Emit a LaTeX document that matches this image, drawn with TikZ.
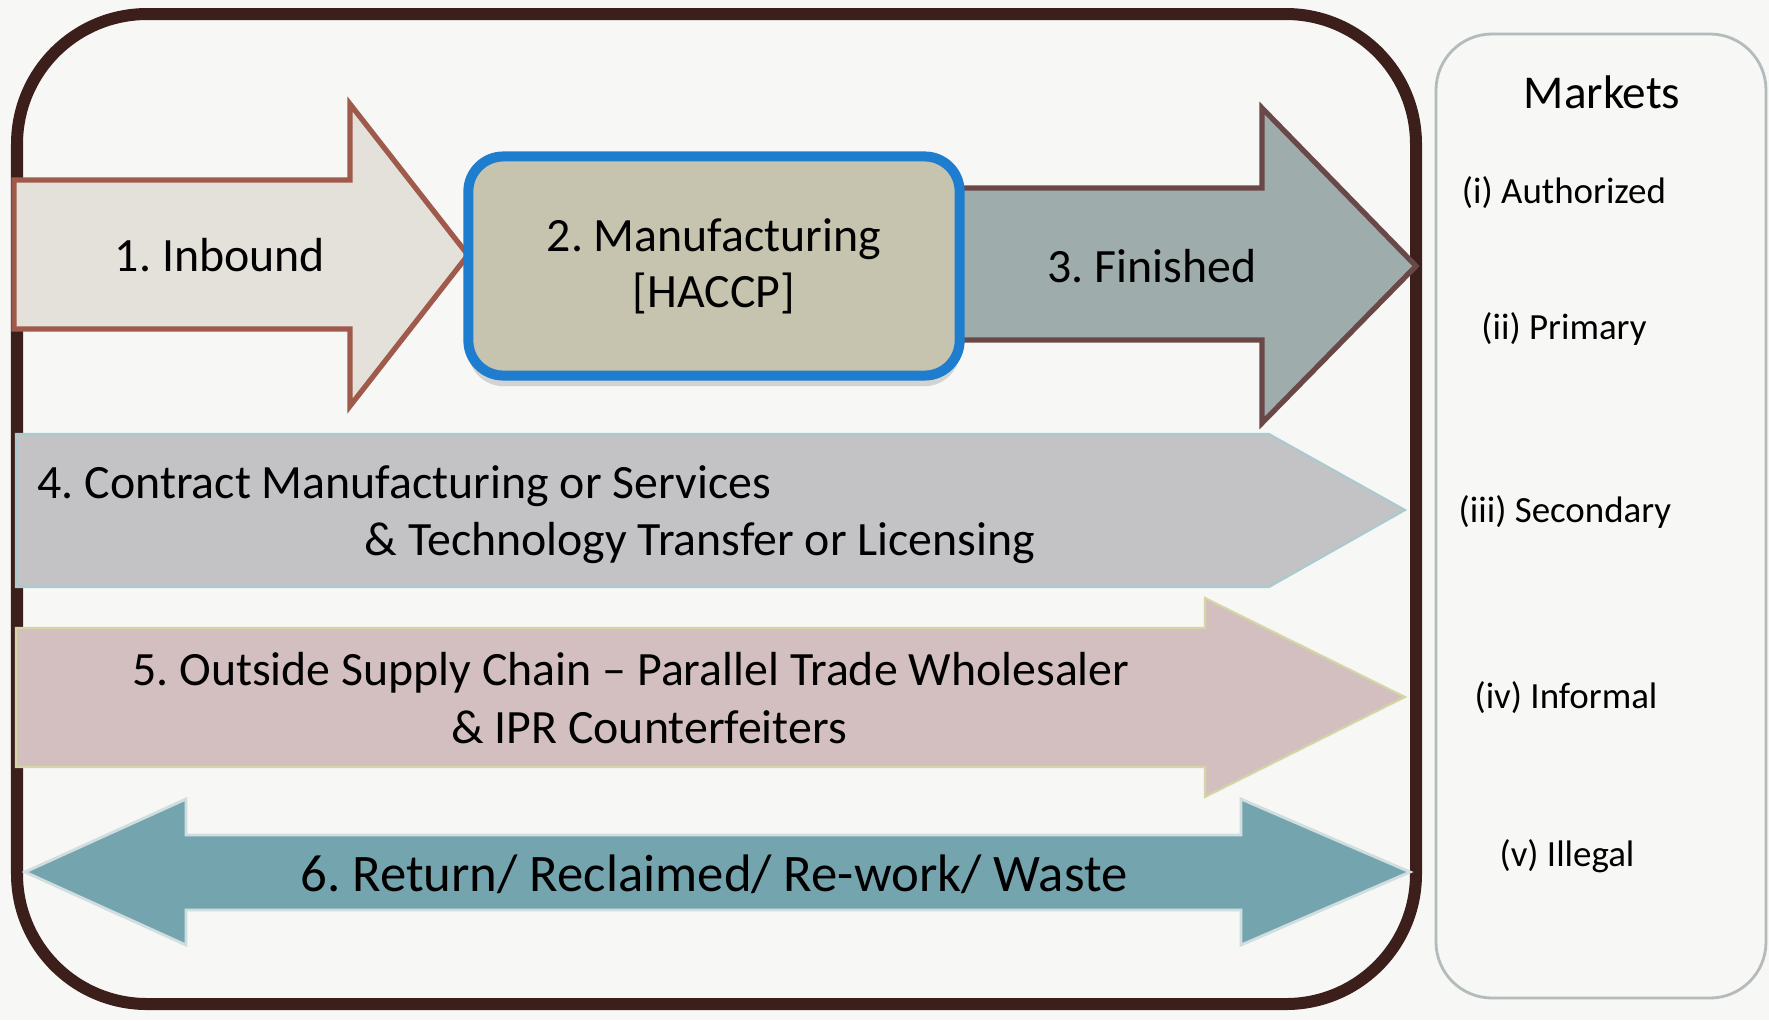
\documentclass[tikz,border=0pt]{standalone}
\usepackage{fontspec}
\setmainfont{Carlito}
\frenchspacing
\usetikzlibrary{arrows.meta, calc, positioning, shadows}

\definecolor{paper}{HTML}{F7F7F5}
\definecolor{frameBrown}{HTML}{3C1F1A}
\definecolor{inFill}{HTML}{E3E1DA}
\definecolor{inEdge}{HTML}{A05A4C}
\definecolor{mfgFill}{HTML}{C6C4AE}
\definecolor{mfgEdge}{HTML}{1F7DD0}
\definecolor{finFill}{HTML}{9EACAC}
\definecolor{finEdge}{HTML}{6A4848}
\definecolor{cmFill}{HTML}{C3C2C5}
\definecolor{cmEdge}{HTML}{A9CBD0}
\definecolor{oscFill}{HTML}{D3BFBF}
\definecolor{oscEdge}{HTML}{D5D6A6}
\definecolor{retFill}{HTML}{74A5AF}
\definecolor{retEdge}{HTML}{D0DEE0}
\definecolor{mktEdge}{HTML}{B4BBBC}

\begin{document}
\begin{tikzpicture}[x=0.01cm, y=-0.01cm,
  lbl/.style={font=\fontsize{13.6}{15.9}\selectfont, align=center, inner sep=0pt},
  mkt/.style={font=\fontsize{10.5}{12.6}\selectfont, inner sep=0pt},
  blk/.style={line width=1.5pt, line join=miter}]
\useasboundingbox (0,0) rectangle (1769,1020);
\fill[paper] (0,0) rectangle (1769,1020);

% markets panel
\draw[mktEdge, line width=0.8pt, rounded corners=0.56cm, fill=paper] (1436,34) rectangle (1766,998);
\node[mkt, font=\fontsize{13.4}{16}\selectfont, anchor=base] at (1602,108) (mk) {Markets};
\node[mkt, anchor=base] at (1564,203) (m1) {(i) Authorized};
\node[mkt, anchor=base] at (1564,339) (m2) {(ii) Primary};
\node[mkt, anchor=base] at (1565,522) (m3) {(iii) Secondary};
\node[mkt, anchor=base] at (1566,708) (m4) {(iv) Informal};
\node[mkt, anchor=base] at (1567,866) (m5) {(v) Illegal};

% outer frame
\draw[frameBrown, line width=0.12cm, rounded corners=1.3cm] (17,14) rectangle (1416,1004);

% row 1
\draw[blk, draw=inEdge, fill=inFill] (14,180) -- (350,180) -- (350,104) -- (468,255)
  -- (350,406) -- (350,329) -- (14,329) -- cycle;
\draw[blk, draw=finEdge, fill=finFill] (940,188) -- (1262,188) -- (1262,108) -- (1416,266)
  -- (1262,423) -- (1262,340) -- (940,340) -- cycle;
\node[lbl, draw=mfgEdge, fill=mfgFill, line width=0.1cm, rounded corners=0.35cm,
  minimum width=4.91cm, minimum height=2.19cm,
  drop shadow={shadow xshift=0pt, shadow yshift=-3pt, opacity=.3}] at (714,266) (mfg)
  {2. Manufacturing\\{[HACCP]}};
\node[lbl, anchor=base] at (220,271) (inb) {1. Inbound};
\node[lbl, anchor=base] at (1152,282) (fin) {3. Finished};

% rows 4-6
\draw[blk, line width=0.6pt, draw=cmEdge, fill=cmFill] (16,434) -- (1269,434) -- (1405,510)
  -- (1269,587) -- (16,587) -- cycle;
\node[lbl, anchor=base west] at (37,498) (cm1) {4. Contract Manufacturing or Services};
\node[lbl, anchor=base west] at (364,555) (cm2) {\& Technology Transfer or Licensing};

\draw[blk, line width=0.6pt, draw=oscEdge, fill=oscFill] (16,628) -- (1205,628) -- (1205,598)
  -- (1405,697) -- (1205,797) -- (1205,767) -- (16,767) -- cycle;
\node[lbl, anchor=base] at (631,685) (osc1) {5. Outside Supply Chain -- Parallel Trade Wholesaler};
\node[lbl, anchor=base] at (649,743) (osc2) {\& IPR Counterfeiters};

\draw[blk, line width=0.8pt, draw=retEdge, fill=retFill] (25,872) -- (186,799) -- (186,835)
  -- (1241,835) -- (1241,799) -- (1410,872) -- (1241,945) -- (1241,910) -- (186,910)
  -- (186,945) -- cycle;
\node[lbl, font=\fontsize{15}{18}\selectfont, anchor=base] at (714,891) (ret)
  {6. Return/ Reclaimed/ Re-work/ Waste};
\end{tikzpicture}
\end{document}
